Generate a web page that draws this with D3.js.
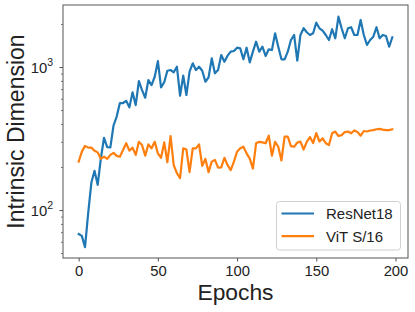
<!DOCTYPE html>
<html>
<head>
<meta charset="utf-8">
<script src="https://cdn.jsdelivr.net/npm/d3@7"></script>
<style>
  html, body { margin: 0; padding: 0; background: #fff; }
  svg { display: block; }
  text { font-family: "Liberation Sans", Arial, Helvetica, sans-serif; fill: #222; }
</style>
</head>
<body>
<svg id="chart" width="415" height="312"></svg>
<script>
// ---- data ----
const epochs = d3.range(0, 200, 2);
const resnet18 = [
  68, 66, 55, 95, 155, 188, 150, 230, 320, 275,
  274, 390, 450, 560, 560, 580, 522, 665, 542, 798,
  690, 610, 811, 748, 855, 1100, 721, 782, 942, 953,
  918, 1005, 630, 870, 637, 927, 1062, 953, 1005, 942,
  789, 847, 1150, 904, 953, 1213, 1089, 1200, 1280, 1294,
  1365, 1351, 1132, 1365, 1078, 1280, 1503, 1280, 1387, 1194,
  1330, 1315, 1722, 1387, 1132, 1132, 1280, 1545, 1675, 1107,
  1675, 1866, 1750, 1675, 1722, 2042, 1866, 1795, 1675, 1545,
  1837, 1588, 2249, 1866, 1588, 1866, 1897, 1675, 1675, 2133,
  1675, 1426, 1545, 1630, 1897, 1588, 1675, 1648, 1387, 1614
];
const vitS16 = [
  218, 256, 281, 273, 273, 260, 253, 228, 236, 228,
  243, 251, 239, 236, 263, 293, 260, 273, 243, 300,
  285, 240, 288, 270, 300, 249, 232, 297, 216, 329,
  206, 181, 167, 270, 265, 184, 270, 270, 288, 204,
  228, 184, 218, 224, 198, 199, 232, 206, 190, 218,
  256, 270, 277, 249, 229, 195, 293, 300, 297, 293,
  331, 240, 300, 277, 222, 326, 326, 280, 277, 296,
  301, 265, 300, 324, 294, 345, 301, 317, 293, 285,
  344, 354, 329, 334, 351, 354, 344, 360, 351, 331,
  357, 354, 360, 362, 367, 369, 365, 362, 362, 367
];
const seriesNames = ["ResNet18", "ViT S/16"];
const seriesColors = ["#1f77b4", "#ff7f0e"];
const xTicks = [0, 50, 100, 150, 200];
const yMajorTicks = [100, 1000];
const yMajorLabels = ["2", "3"];
const yMinorTicks = [50, 60, 70, 80, 90, 200, 300, 400, 500, 600, 700, 800, 900, 2000];
const xLabel = "Epochs";
const yLabel = "Intrinsic Dimension";

// ---- layout ----
const L = 63, R = 408, T = 5, B = 258;
const svg = d3.select("#chart");

const x = d3.scaleLinear().domain([-9.9, 207.9]).range([L, R]);
const y = d3.scaleLog().domain([46.2, 2714]).range([B, T]);

const axisColor = "#555";

// lines
const series = [resnet18, vitS16];
const line = d3.line().x((d, i) => x(epochs[i])).y(d => y(d));
svg.append("clipPath").attr("id", "clip")
  .append("rect").attr("x", L).attr("y", T).attr("width", R - L).attr("height", B - T);
series.forEach((s, k) => {
  svg.append("path")
    .datum(s)
    .attr("clip-path", "url(#clip)")
    .attr("d", line)
    .attr("fill", "none")
    .attr("stroke", seriesColors[k])
    .attr("stroke-width", 2.2)
    .attr("stroke-linejoin", "round")
    .attr("stroke-linecap", "square");
});

// x axis
const xAxis = d3.axisBottom(x).tickValues(xTicks).tickSize(3.5).tickPadding(3.5);
const gx = svg.append("g").attr("transform", `translate(0,${B})`).call(xAxis);
gx.select(".domain").remove();
gx.selectAll(".tick line").attr("stroke", axisColor).attr("stroke-width", 1);
gx.selectAll(".tick text").attr("font-size", 14.8).attr("fill", "#222")
  .style("font-family", '"Liberation Sans", Arial, sans-serif');

// y axis major
const yAxis = d3.axisLeft(y).tickValues(yMajorTicks).tickSize(3.5).tickPadding(4).tickFormat(() => "");
const gy = svg.append("g").attr("transform", `translate(${L},0)`).call(yAxis);
gy.select(".domain").remove();
gy.selectAll(".tick line").attr("stroke", axisColor).attr("stroke-width", 1);
gy.selectAll(".tick text").each(function(d, i) {
  const t = d3.select(this).text(null)
    .attr("font-size", 14.8).attr("dy", "0.36em").attr("x", -10).attr("fill", "#222")
    .style("font-family", '"Liberation Sans", Arial, sans-serif');
  t.append("tspan").text("10");
  t.append("tspan").text(yMajorLabels[i]).attr("font-size", 10.5).attr("dy", -6.5);
});
// y axis minor
const yMinor = d3.axisLeft(y).tickValues(yMinorTicks).tickSize(2).tickFormat(() => "");
const gym = svg.append("g").attr("transform", `translate(${L},0)`).call(yMinor);
gym.select(".domain").remove();
gym.selectAll(".tick line").attr("stroke", axisColor).attr("stroke-width", 0.8);

// frame
svg.append("rect").attr("x", L).attr("y", T).attr("width", R - L).attr("height", B - T)
  .attr("fill", "none").attr("stroke", axisColor).attr("stroke-width", 1);

// axis labels
svg.append("text").attr("x", (L + R) / 2).attr("y", 299.5).attr("text-anchor", "middle")
  .attr("font-size", 22.8).text(xLabel);
svg.append("text").attr("transform", `translate(23.5,${(T + B) / 2}) rotate(-90)`)
  .attr("text-anchor", "middle").attr("font-size", 23).text(yLabel);

// legend
const lg = svg.append("g");
lg.append("rect").attr("x", 276.5).attr("y", 201.5).attr("width", 124).attr("height", 48.5)
  .attr("rx", 3).attr("fill", "#fff").attr("fill-opacity", 0.8)
  .attr("stroke", "#d0d0d0").attr("stroke-width", 1);
seriesNames.forEach((n, k) => {
  const cy = 213.5 + k * 22.7;
  lg.append("line").attr("x1", 281.5).attr("x2", 314).attr("y1", cy).attr("y2", cy)
    .attr("stroke", seriesColors[k]).attr("stroke-width", 2.2);
  lg.append("text").attr("x", 326).attr("y", cy + 5.5).attr("font-size", 15).text(n);
});
</script>
</body>
</html>
